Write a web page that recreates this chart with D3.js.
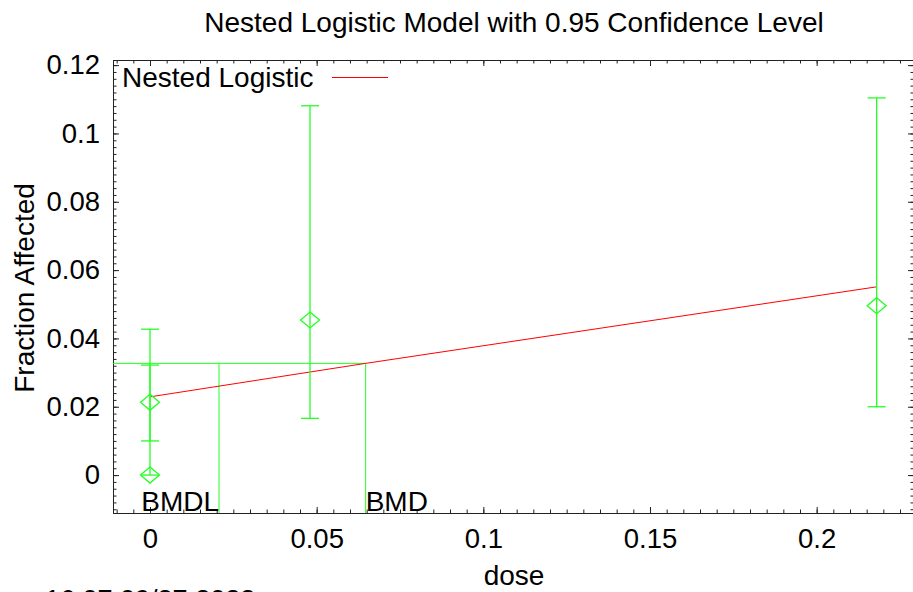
<!DOCTYPE html>
<html><head><meta charset="utf-8">
<script src="https://cdn.jsdelivr.net/npm/d3@7"></script>
<style>
body{margin:0;background:#fff;}
text{font-family:"Liberation Sans",Arial,sans-serif;fill:#000;}
</style></head>
<body><svg id="c" width="913" height="592"></svg>
<script>
// Data
const doses = [0, 0, 0.048, 0.218];
const fractions = [0.0213, 0.0, 0.0454, 0.0496];
const ciLower = [0.0100, 0.0, 0.0166, 0.0200];
const ciUpper = [0.0427, 0.0322, 0.1081, 0.1104];
const modelDose = [0, 0.0647, 0.218];
const modelFraction = [0.0229, 0.0327, 0.0551];
const bmr = 0.0327;
const bmd = 0.0647;
const bmdl = 0.0207;
const xTicks = [0, 0.05, 0.1, 0.15, 0.2];
const xTickLabels = ["0", "0.05", "0.1", "0.15", "0.2"];
const yTicks = [0, 0.02, 0.04, 0.06, 0.08, 0.1, 0.12];
const yTickLabels = ["0", "0.02", "0.04", "0.06", "0.08", "0.1", "0.12"];

const svg = d3.select("#c");
const L = 113, R = 914, T = 60, B = 513;
const x = d3.scaleLinear().domain([-0.0111, 0.2292]).range([L, R]);
const y = d3.scaleLinear().domain([-0.0111, 0.1215]).range([B, T]);

const minorX = d3.range(-0.01, 0.2291, 0.005).map(v => +v.toFixed(4));
const minorY = d3.range(-0.01, 0.1211, 0.002).map(v => +v.toFixed(4));

function styleAxis(g){
  g.select(".domain").remove();
  g.selectAll("line").attr("stroke","#222").attr("stroke-width",1);
  g.selectAll("text").style("font-size","27.5px").attr("font-family",null).attr("fill","#000");
}
// minor ticks
[[d3.axisBottom(x), `translate(0,${B})`],[d3.axisTop(x), `translate(0,${T})`]].forEach(([ax,tr])=>{
  svg.append("g").attr("transform",tr).call(ax.tickValues(minorX).tickSize(-3.5).tickFormat("")).call(styleAxis);
});
[[d3.axisLeft(y), `translate(${L},0)`],[d3.axisRight(y), `translate(${R},0)`]].forEach(([ax,tr])=>{
  svg.append("g").attr("transform",tr).call(ax.tickValues(minorY).tickSize(-3.5).tickFormat("")).call(styleAxis);
});
// major ticks
svg.append("g").attr("transform",`translate(0,${B})`)
  .call(d3.axisBottom(x).tickValues(xTicks).tickSize(-6).tickPadding(15).tickFormat((d,i)=>xTickLabels[i])).call(styleAxis);
svg.append("g").attr("transform",`translate(0,${T})`)
  .call(d3.axisTop(x).tickValues(xTicks).tickSize(-6).tickFormat("")).call(styleAxis);
svg.append("g").attr("transform",`translate(${L},0)`)
  .call(d3.axisLeft(y).tickValues(yTicks).tickSize(-6).tickPadding(13).tickFormat((d,i)=>yTickLabels[i])).call(styleAxis);
svg.append("g").attr("transform",`translate(${R},0)`)
  .call(d3.axisRight(y).tickValues(yTicks).tickSize(-6).tickFormat("")).call(styleAxis);

// frame
svg.append("rect").attr("x",L+0.5).attr("y",T+0.5).attr("width",R-L).attr("height",B-T)
  .attr("fill","none").attr("stroke","#222").attr("stroke-width",1);

const green = "#22ff22";
// BMR / BMD / BMDL lines
svg.append("line").attr("x1",L).attr("x2",x(bmd)).attr("y1",y(bmr)).attr("y2",y(bmr)).attr("stroke",green).attr("stroke-width",1);
svg.append("line").attr("x1",x(bmd)).attr("x2",x(bmd)).attr("y1",y(bmr)).attr("y2",B).attr("stroke",green).attr("stroke-width",1);
svg.append("line").attr("x1",x(bmdl)).attr("x2",x(bmdl)).attr("y1",y(bmr)).attr("y2",B).attr("stroke",green).attr("stroke-width",1);

// model line
svg.append("path").datum(modelDose.map((d,i)=>[d,modelFraction[i]]))
  .attr("d",d3.line().x(d=>x(d[0])).y(d=>y(d[1])))
  .attr("fill","none").attr("stroke","#ff0000").attr("stroke-width",1);

// error bars and diamonds
const g = svg.append("g").attr("stroke",green).attr("stroke-width",1.3).attr("fill","none");
doses.forEach((d,i)=>{
  const cx = x(d);
  g.append("line").attr("x1",cx).attr("x2",cx).attr("y1",y(ciLower[i])).attr("y2",y(ciUpper[i]));
  g.append("line").attr("x1",cx-9).attr("x2",cx+9).attr("y1",y(ciLower[i])).attr("y2",y(ciLower[i]));
  g.append("line").attr("x1",cx-9).attr("x2",cx+9).attr("y1",y(ciUpper[i])).attr("y2",y(ciUpper[i]));
  const cy = y(fractions[i]);
  g.append("path").attr("d",`M${cx},${cy-8}L${cx+9.5},${cy}L${cx},${cy+8}L${cx-9.5},${cy}Z`);
});

// BMD labels
svg.append("text").attr("x",x(bmdl)).attr("y",511).attr("text-anchor","end").style("font-size","28px").text("BMDL");
svg.append("text").attr("x",x(bmd)).attr("y",511).attr("text-anchor","start").style("font-size","28px").text("BMD");

// legend
svg.append("text").attr("x",122).attr("y",87).style("font-size","28px").text("Nested Logistic");
svg.append("line").attr("x1",332).attr("x2",388).attr("y1",77.5).attr("y2",77.5).attr("stroke","#ff0000").attr("stroke-width",1);

// titles
svg.append("text").attr("x",514).attr("y",32).attr("text-anchor","middle").style("font-size","28px").text("Nested Logistic Model with 0.95 Confidence Level");
svg.append("text").attr("x",514).attr("y",585).attr("text-anchor","middle").style("font-size","28px").text("dose");
svg.append("text").attr("transform","translate(34,288) rotate(-90)").attr("text-anchor","middle").style("font-size","28px").text("Fraction Affected");
svg.append("text").attr("x",45).attr("y",609).style("font-size","27px").text("16:07 09/27 2023");
</script></body></html>
